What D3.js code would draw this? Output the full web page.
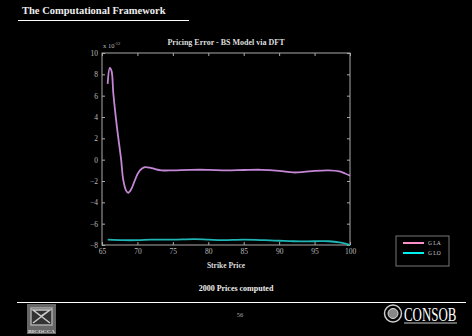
<!DOCTYPE html>
<html>
<head>
<meta charset="utf-8">
<script src="https://cdn.jsdelivr.net/npm/d3@7"></script>
<style>
  html, body { margin: 0; padding: 0; background: #000; }
  svg { display: block; }
  text { font-family: "Liberation Serif", "DejaVu Serif", serif; }
</style>
</head>
<body>
<svg id="canvas" width="472" height="336"></svg>
<script>
// Data (error values in units of 1e-12)
const laStrikes = [65.8, 66.1, 66.35, 66.6, 67.1, 67.7, 68.0, 68.4, 68.7, 69.1, 69.6, 70.1, 70.6, 71.1, 72, 73.4, 75, 77.5, 80, 82.5, 85, 87.5, 90, 92, 93.5, 95, 97, 98.5, 99.3, 100];
const laValues  = [7.1, 8.6, 8.3, 6.2, 3.1, 0, -1.9, -2.9, -3.1, -2.8, -2.0, -1.25, -0.85, -0.7, -0.8, -1.0, -1.0, -0.95, -0.95, -1.0, -0.97, -0.95, -1.05, -1.2, -1.15, -1.05, -1.0, -1.1, -1.3, -1.5];
const loStrikes = [65.8, 68, 70, 72, 75, 78, 80, 82, 85, 88, 90, 92, 95, 97, 98.5, 99.5, 100];
const loValues  = [-7.5, -7.55, -7.55, -7.5, -7.5, -7.45, -7.5, -7.55, -7.5, -7.55, -7.6, -7.65, -7.65, -7.65, -7.75, -7.9, -8.0];

const xTicks = [65, 70, 75, 80, 85, 90, 95, 100];
const yTicks = [-8, -6, -4, -2, 0, 2, 4, 6, 8, 10];
const seriesNames = ['G LA', 'G LO'];

const svg = d3.select('#canvas');

// header
svg.append('text').attr('x', 22).attr('y', 14)
  .attr('fill', '#eee').attr('font-size', 10.5).attr('font-weight', 'bold')
  .text('The Computational Framework');
svg.append('line').attr('x1', 18).attr('x2', 189).attr('y1', 20.5).attr('y2', 20.5)
  .attr('stroke', '#fff').attr('stroke-width', 1);

// plot
const plot = { left: 102, right: 350, top: 53, bottom: 245 };
const x = d3.scaleLinear().domain([65, 100]).range([plot.left, plot.right]);
const y = d3.scaleLinear().domain([-8, 10]).range([plot.bottom, plot.top]);

const axisColor = '#aaa';
const g = svg.append('g');

const styleAxis = sel => {
  sel.select('.domain').remove();
  sel.selectAll('line').attr('stroke', axisColor);
  sel.selectAll('text').attr('fill', '#bbb').attr('font-size', 7.5)
    .attr('font-family', '"Liberation Serif", serif');
};

g.append('g').attr('transform', `translate(0,${plot.bottom})`)
  .call(d3.axisBottom(x).tickValues(xTicks).tickSize(-3).tickPadding(4))
  .call(styleAxis);
g.append('g').attr('transform', `translate(0,${plot.top})`)
  .call(d3.axisTop(x).tickValues(xTicks).tickSize(-3).tickFormat(''))
  .call(styleAxis);
g.append('g').attr('transform', `translate(${plot.left},0)`)
  .call(d3.axisLeft(y).tickValues(yTicks).tickSize(-3).tickPadding(4))
  .call(styleAxis);
g.append('g').attr('transform', `translate(${plot.right},0)`)
  .call(d3.axisRight(y).tickValues(yTicks).tickSize(-3).tickFormat(''))
  .call(styleAxis);

g.append('rect')
  .attr('x', plot.left).attr('y', plot.top)
  .attr('width', plot.right - plot.left).attr('height', plot.bottom - plot.top)
  .attr('fill', 'none').attr('stroke', axisColor).attr('stroke-width', 1);

const line = d3.line().curve(d3.curveCatmullRom.alpha(0.5))
  .x(d => x(d[0])).y(d => y(d[1]));

g.append('path')
  .datum(d3.zip(laStrikes, laValues))
  .attr('d', line).attr('fill', 'none')
  .attr('stroke', '#c487d6').attr('stroke-width', 1.8);
g.append('path')
  .datum(d3.zip(loStrikes, loValues))
  .attr('d', line).attr('fill', 'none')
  .attr('stroke', '#1fb5b5').attr('stroke-width', 1.8);

// scale note and titles
const sx = g.append('text').attr('x', plot.left + 1).attr('y', 48)
  .attr('fill', '#bbb').attr('font-size', 6.5);
sx.append('tspan').text('x 10');
sx.append('tspan').attr('dy', -3).attr('font-size', 4.5).text('-12');

g.append('text').attr('x', 226).attr('y', 45).attr('text-anchor', 'middle')
  .attr('fill', '#ddd').attr('font-size', 8).attr('font-weight', 'bold')
  .text('Pricing Error - BS Model via DFT');
g.append('text').attr('x', 226).attr('y', 268).attr('text-anchor', 'middle')
  .attr('fill', '#ddd').attr('font-size', 7.5).attr('font-weight', 'bold')
  .text('Strike Price');

// legend
const legend = svg.append('g').attr('transform', 'translate(396,236)');
legend.append('rect').attr('width', 53).attr('height', 30)
  .attr('fill', '#000').attr('stroke', '#777').attr('stroke-width', 1);
const legendColors = ['#ff8fc8', '#00f0f0'];
seriesNames.forEach((name, i) => {
  const ly = 7 + i * 10;
  legend.append('line').attr('x1', 7).attr('x2', 28).attr('y1', ly).attr('y2', ly)
    .attr('stroke', legendColors[i]).attr('stroke-width', 2);
  legend.append('text').attr('x', 32).attr('y', ly + 2)
    .attr('fill', '#ccc').attr('font-size', 5.5).text(name);
});

// footer
svg.append('text').attr('x', 236).attr('y', 291).attr('text-anchor', 'middle')
  .attr('fill', '#eee').attr('font-size', 8).attr('font-weight', 'bold')
  .text('2000 Prices computed');
svg.append('line').attr('x1', 17).attr('x2', 466).attr('y1', 302.5).attr('y2', 302.5)
  .attr('stroke', '#fff').attr('stroke-width', 1);
svg.append('text').attr('x', 240).attr('y', 317).attr('text-anchor', 'middle')
  .attr('fill', '#aaa').attr('font-size', 6.5).text('56');

// left logo (university emblem, simplified)
const ll = svg.append('g').attr('transform', 'translate(27,304)');
ll.append('rect').attr('width', 29).attr('height', 30).attr('fill', '#666');
ll.append('rect').attr('x', 4).attr('y', 4).attr('width', 21).attr('height', 17)
  .attr('fill', '#333').attr('stroke', '#aaa').attr('stroke-width', 1.5);
ll.append('path').attr('d', 'M6,6 L23,19 M23,6 L6,19 M6,6 L23,6 L14,12 Z')
  .attr('stroke', '#ccc').attr('stroke-width', 1.5).attr('fill', 'none');
ll.append('text').attr('x', 14.5).attr('y', 29).attr('text-anchor', 'middle')
  .attr('fill', '#ddd').attr('font-size', 5).attr('font-weight', 'bold')
  .attr('textLength', 27).attr('lengthAdjust', 'spacingAndGlyphs')
  .attr('font-family', 'DejaVu Sans').text('BICOCCA');

// right logo (CONSOB)
const rl = svg.append('g').attr('transform', 'translate(384,304)');
rl.append('circle').attr('cx', 9).attr('cy', 9.5).attr('r', 8.5)
  .attr('fill', 'none').attr('stroke', '#ccc').attr('stroke-width', 1.5);
rl.append('circle').attr('cx', 9).attr('cy', 9.5).attr('r', 5)
  .attr('fill', '#888').attr('stroke', '#ddd').attr('stroke-width', 1);
rl.append('text').attr('transform', 'translate(20,17) scale(0.68,1)')
  .attr('fill', '#fff').attr('font-size', 19)
  .text('CONSOB');
rl.append('line').attr('x1', 20).attr('x2', 73).attr('y1', 19).attr('y2', 19)
  .attr('stroke', '#fff').attr('stroke-width', 0.8);
</script>
</body>
</html>
